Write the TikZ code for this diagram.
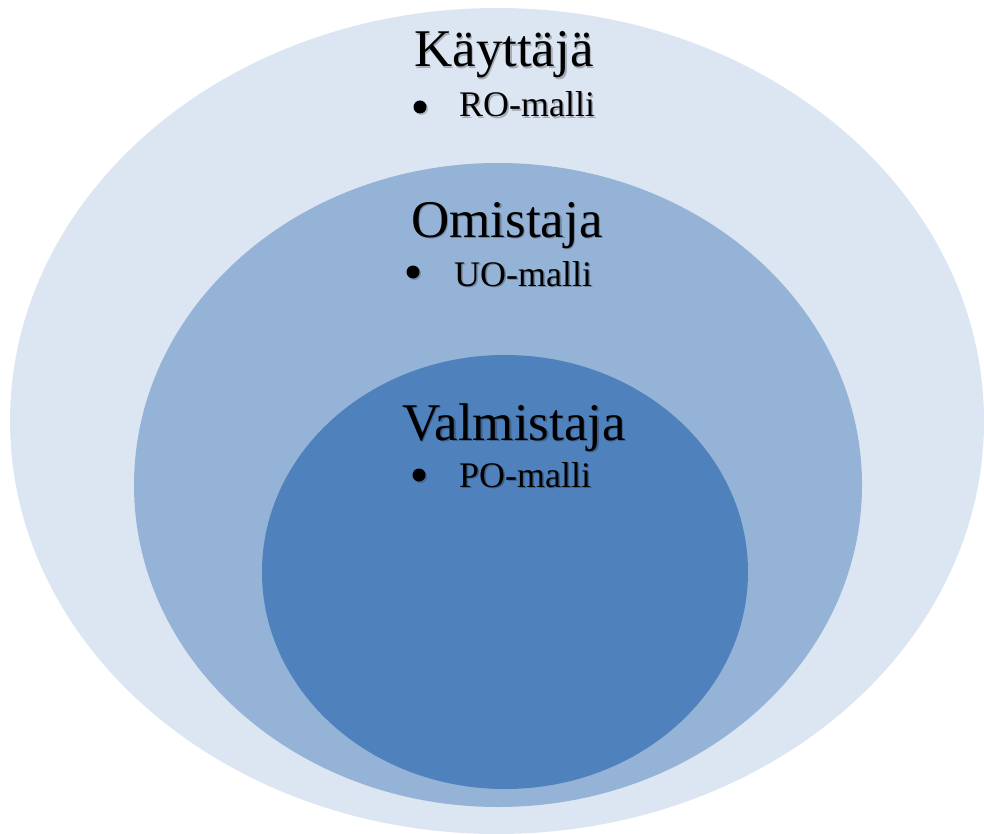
\documentclass[tikz,border=0pt]{standalone}
\usepackage{fontspec}
\setmainfont{Liberation Serif}
\usetikzlibrary{calc}
\definecolor{outerc}{HTML}{DCE6F2}
\definecolor{midc}{HTML}{95B3D7}
\definecolor{innerc}{HTML}{4F81BD}
\tikzset{
  title/.style={anchor=base west, inner sep=0pt, font=\fontsize{53}{60}\selectfont},
  item/.style={anchor=base west, inner sep=0pt, font=\fontsize{36}{42}\selectfont},
  shadowtxt/.style={text=black, opacity=0.25},
  bulletdot/.style={circle, fill=black, inner sep=0pt, minimum size=13pt},
  bulletshadow/.style={circle, fill=black, opacity=0.2, inner sep=0pt, minimum size=13pt}
}
\newcommand{\shtext}[4]{%
  \node[#1, shadowtxt] at ($(#2)+(1.5,1.5)$) {#4};
  \node[#1] (#3) at (#2) {#4};
}
\newcommand{\shbullet}[2]{%
  \node[bulletshadow] at ($(#1)+(1.5,1.5)$) {};
  \node[bulletdot] (#2) at (#1) {};
}
\begin{document}
\begin{tikzpicture}[x=1pt,y=-1pt]
\useasboundingbox (0,0) rectangle (984,834);
\clip (0,0) rectangle (984,834);
\fill[outerc] (497,421) ellipse [x radius=487, y radius=413];
\fill[midc] (498,485) ellipse [x radius=364, y radius=322];
\fill[innerc] (505,572) ellipse [x radius=243, y radius=217];
\shtext{title}{414,67}{t1}{Käyttäjä}
\shbullet{420,107}{b1}
\shtext{item}{459,117}{i1}{RO-malli}
\shtext{title}{411,237}{t2}{Omistaja}
\shbullet{413,272}{b2}
\shtext{item}{454,286}{i2}{UO-malli}
\shtext{title}{402,440}{t3}{Valmistaja}
\shbullet{419,475}{b3}
\shtext{item}{459,487}{i3}{PO-malli}
\end{tikzpicture}
\end{document}
